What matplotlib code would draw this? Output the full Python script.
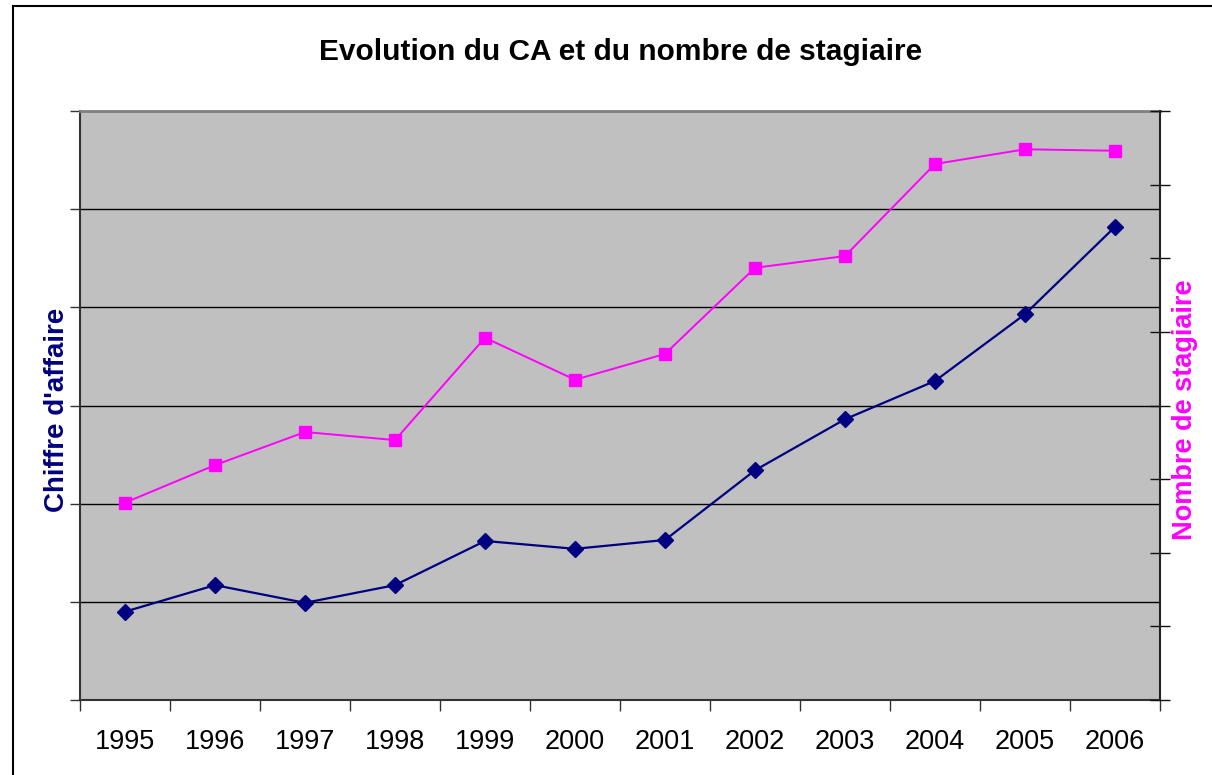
"""Evolution du CA et du nombre de stagiaire, 1995-2006."""

import matplotlib
matplotlib.use("Agg")
import matplotlib.pyplot as plt
from matplotlib.lines import Line2D

plt.rcParams["font.family"] = ["Liberation Sans", "DejaVu Sans"]

years = ["1995", "1996", "1997", "1998", "1999", "2000",
         "2001", "2002", "2003", "2004", "2005", "2006"]
# chiffre d'affaire (left axis, 0-600)
ca = [90, 117, 99, 117, 162, 154, 163, 234, 286, 325, 393, 482]
# nombre de stagiaire (right axis, 0-800)
stagiaires = [268, 319, 364, 353, 492, 435, 470, 587, 603, 728, 748, 746]

fig = plt.figure(figsize=(12.12, 7.75), dpi=100)
ax = fig.add_axes([80 / 1212, 75 / 775, 1080 / 1212, 589 / 775])
ax.set_facecolor("#C0C0C0")

x = list(range(len(years)))

# grid on left axis
ax.set_ylim(0, 600)
ax.set_yticks(range(0, 601, 100))
ax.set_yticklabels([])
ax.yaxis.grid(True, color="#000000", linewidth=1.0)
ax.set_axisbelow(True)

ax.set_xlim(-0.5, len(years) - 0.5)
ax.set_xticks([i - 0.5 for i in range(len(years) + 1)])
ax.set_xticklabels([])
ax.set_xticks(x, minor=True)
ax.set_xticklabels(years, minor=True, fontsize=19.5)
ax.tick_params(axis="x", which="minor", length=0, pad=21)
ax.tick_params(axis="x", which="major", length=8, width=1, color="#333333")
ax.tick_params(axis="y", length=7, width=1, color="#333333")

for side in ["left", "bottom"]:
    ax.spines[side].set_color("#333333")
    ax.spines[side].set_linewidth(1.5)
ax.spines["top"].set_color("#808080")
ax.spines["top"].set_linewidth(2)
ax.spines["right"].set_visible(False)

ax.plot(x, ca, color="#000080", linewidth=1.6, marker="D",
        markersize=8, markeredgecolor="#000080", zorder=3)
ax.text(-23 / 1080, 0.492, "Chiffre d'affaire", transform=ax.transAxes,
        rotation=90, ha="center", va="center", color="#000080",
        fontsize=20, fontweight="bold")

ax2 = ax.twinx()
ax2.set_ylim(0, 800)
ax2.set_yticks(range(0, 801, 100))
ax2.set_yticklabels([])
ax2.tick_params(axis="y", direction="inout", length=14, width=1, color="#111111")
ax2.spines["right"].set_color("#222222")
ax2.spines["right"].set_linewidth(1.5)
for side in ["left", "top", "bottom"]:
    ax2.spines[side].set_visible(False)
ax2.plot(x, stagiaires, color="#FF00FF", linewidth=1.4, marker="s",
         markersize=8, markeredgecolor="#FF00FF", zorder=3)
ax2.text(1 + 25 / 1080, 0.492, "Nombre de stagiaire", transform=ax2.transAxes,
         rotation=90, ha="center", va="center", color="#FF00FF",
         fontsize=19.5, fontweight="bold")

fig.text(621 / 1212, 1 - 52 / 775, "Evolution du CA et du nombre de stagiaire",
         ha="center", va="center", fontsize=21.5, fontweight="bold")

# outer chart border (left and top edges visible)
fig.add_artist(Line2D([13 / 1212, 13 / 1212], [0, 1 - 6 / 775],
                      transform=fig.transFigure, color="#000000", linewidth=1.5))
fig.add_artist(Line2D([13 / 1212, 1], [1 - 6 / 775, 1 - 6 / 775],
                      transform=fig.transFigure, color="#000000", linewidth=1.5))

fig.savefig("out.png", dpi=100)
